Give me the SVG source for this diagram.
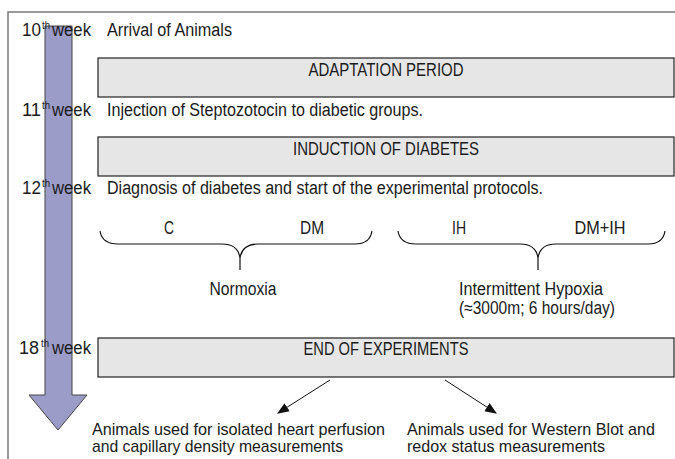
<svg xmlns="http://www.w3.org/2000/svg" width="675" height="459" viewBox="0 0 675 459">
<defs>
<style>
text{font-family:"Liberation Sans",Arial,sans-serif;font-size:18px;fill:#1a1a1a}
.sup{font-size:10px}
.small{font-size:17px}
.box{fill:#e6e6e6;stroke:#222;stroke-width:1.2}
.brace{fill:none;stroke:#111;stroke-width:1.2}
.conn{stroke:#111;stroke-width:1;fill:none}
.mid{text-anchor:middle}
</style>
<marker id="ah" viewBox="0 0 10 10" refX="9" refY="5" markerWidth="12" markerHeight="12" markerUnits="userSpaceOnUse" orient="auto">
<path d="M0,1 L10,5 L0,9 Z" fill="#111"/>
</marker>
</defs>
<rect width="675" height="459" fill="#fff"/>
<g id="frame">
<path d="M8,459 L8,12 L675,12" fill="none" stroke="#7a7a7a" stroke-width="1.5"/>
</g>
<g id="timeline-arrow">
<polygon points="45,26 72,26 72,395 87,395 58,430 29,395 45,395" fill="#9c9cc9" stroke="#444" stroke-width="1"/>
</g>
<g id="week10">
<text x="22" y="36" textLength="19" lengthAdjust="spacingAndGlyphs">10</text><text class="sup" x="42" y="29" textLength="8" lengthAdjust="spacingAndGlyphs">th</text><text x="52" y="36" textLength="39" lengthAdjust="spacingAndGlyphs">week</text>
<text x="107" y="36" textLength="125" lengthAdjust="spacingAndGlyphs">Arrival of Animals</text>
</g>
<g id="adaptation">
<rect class="box" x="98" y="58" width="576" height="39"/>
<text class="mid" x="386" y="76" textLength="155" lengthAdjust="spacingAndGlyphs">ADAPTATION PERIOD</text>
</g>
<g id="week11">
<text x="22" y="116" textLength="19" lengthAdjust="spacingAndGlyphs">11</text><text class="sup" x="42" y="109" textLength="8" lengthAdjust="spacingAndGlyphs">th</text><text x="52" y="116" textLength="39" lengthAdjust="spacingAndGlyphs">week</text>
<text x="107" y="116" textLength="316" lengthAdjust="spacingAndGlyphs">Injection of Steptozotocin to diabetic groups.</text>
</g>
<g id="induction">
<rect class="box" x="98" y="137" width="576" height="39"/>
<text class="mid" x="386" y="155" textLength="186" lengthAdjust="spacingAndGlyphs">INDUCTION OF DIABETES</text>
</g>
<g id="week12">
<text x="22" y="194" textLength="19" lengthAdjust="spacingAndGlyphs">12</text><text class="sup" x="42" y="187" textLength="8" lengthAdjust="spacingAndGlyphs">th</text><text x="52" y="194" textLength="39" lengthAdjust="spacingAndGlyphs">week</text>
<text x="107" y="194" textLength="436" lengthAdjust="spacingAndGlyphs">Diagnosis of diabetes and start of the experimental protocols.</text>
</g>
<g id="normoxia">
<text class="mid" x="169" y="234" textLength="10" lengthAdjust="spacingAndGlyphs">C</text>
<text class="mid" x="312" y="234" textLength="24" lengthAdjust="spacingAndGlyphs">DM</text>
<path class="brace" d="M100,231 Q102,244 118,244 L222,244 Q238,244 240,258 L240,270 M240,258 Q242,244 258,244 L355,244 Q370,244 372,231"/>
<text class="mid" x="243" y="295" textLength="67" lengthAdjust="spacingAndGlyphs">Normoxia</text>
</g>
<g id="hypoxia">
<text class="mid" x="459" y="234" textLength="14" lengthAdjust="spacingAndGlyphs">IH</text>
<text class="mid" x="600" y="234" textLength="51" lengthAdjust="spacingAndGlyphs">DM+IH</text>
<path class="brace" d="M398,231 Q400,244 416,244 L520,244 Q536,244 538,258 L538,270 M538,258 Q540,244 556,244 L648,244 Q663,244 665,231"/>
<text x="459" y="295" textLength="144" lengthAdjust="spacingAndGlyphs">Intermittent Hypoxia</text>
<text x="459" y="314" textLength="156" lengthAdjust="spacingAndGlyphs">(≈3000m; 6 hours/day)</text>
</g>
<g id="week18">
<text x="19" y="354" textLength="20" lengthAdjust="spacingAndGlyphs">18</text><text class="sup" x="41" y="347" textLength="8" lengthAdjust="spacingAndGlyphs">th</text><text x="52" y="354" textLength="39" lengthAdjust="spacingAndGlyphs">week</text>
</g>
<g id="end">
<rect class="box" x="98" y="338" width="576" height="39"/>
<text class="mid" x="386" y="355" textLength="165" lengthAdjust="spacingAndGlyphs">END OF EXPERIMENTS</text>
</g>
<g id="perfusion">
<text class="small" x="92" y="435" textLength="293" lengthAdjust="spacingAndGlyphs">Animals used for isolated heart perfusion</text>
<text class="small" x="92" y="452" textLength="251" lengthAdjust="spacingAndGlyphs">and capillary density measurements</text>
</g>
<g id="western">
<text class="small" x="407" y="435" textLength="248" lengthAdjust="spacingAndGlyphs">Animals used for Western Blot and</text>
<text class="small" x="407" y="452" textLength="198" lengthAdjust="spacingAndGlyphs">redox status measurements</text>
</g>
<g id="connectors">
<line class="conn" x1="330" y1="380" x2="278" y2="413" marker-end="url(#ah)"/>
<line class="conn" x1="445" y1="380" x2="496" y2="413" marker-end="url(#ah)"/>
</g>
</svg>
